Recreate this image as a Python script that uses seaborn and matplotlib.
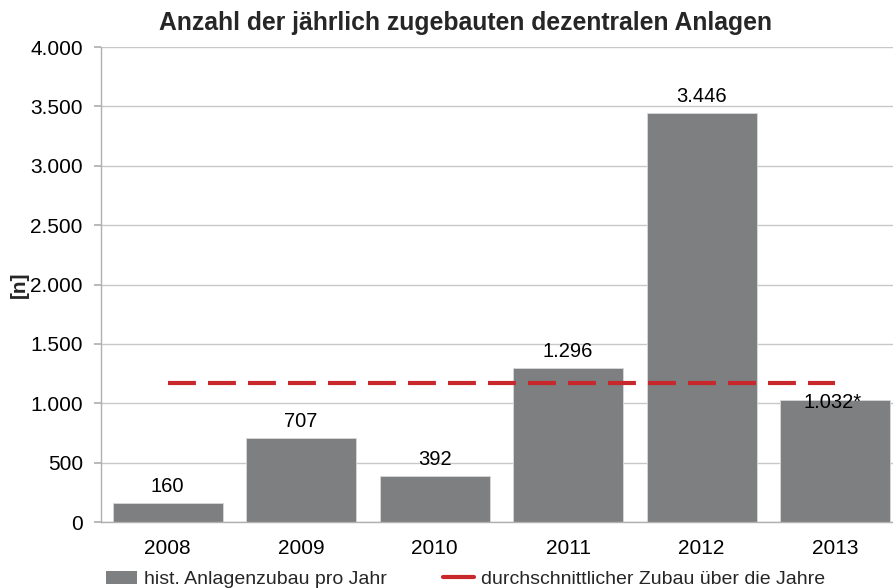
import numpy as np
import pandas as pd
import matplotlib
matplotlib.use('Agg')
import matplotlib.pyplot as plt
import matplotlib.ticker as mticker
from matplotlib.patches import Patch
from matplotlib.lines import Line2D
import seaborn as sns

years = ['2008', '2009', '2010', '2011', '2012', '2013']
zubau = [160, 707, 392, 1296, 3446, 1032]
labels = ['160', '707', '392', '1.296', '3.446', '1.032*']

df = pd.DataFrame({'Jahr': years, 'Anlagen': zubau})
avg = np.mean(zubau)

sns.set_theme(style='white')
plt.rcParams['font.family'] = ['Liberation Sans', 'DejaVu Sans']

bar_color = '#7e7f81'
red = '#c8282c'
grid_color = '#c8c8c8'

fig = plt.figure(figsize=(8.93, 5.88), dpi=100)
# right part of the plot area runs past the image edge, as in the original
ax = fig.add_axes([0.113, 0.112, 0.897, 0.808])

sns.barplot(data=df, x='Jahr', y='Anlagen', color=bar_color, width=0.825,
            saturation=1, edgecolor='#d9d9d9', linewidth=0.6, ax=ax, zorder=2)

ax.plot(range(len(years)), [avg] * len(years), color=red, lw=3.0,
        dashes=(6.7, 2.9), zorder=3)

for i, (v, t) in enumerate(zip(zubau, labels)):
    if i == len(years) - 1:
        ax.annotate(t, (i, v), xytext=(-2, -2), textcoords='offset points',
                    ha='center', va='center', fontsize=14.5, color='black', zorder=4)
    else:
        ax.annotate(t, (i, v), xytext=(0, 5), textcoords='offset points',
                    ha='center', va='bottom', fontsize=14.5, color='black')

ax.set_ylim(0, 4000)
ax.set_xlim(-0.5, 5.5)
ax.yaxis.set_major_locator(mticker.MultipleLocator(500))
ax.yaxis.set_major_formatter(mticker.FuncFormatter(lambda v, p: f'{v:,.0f}'.replace(',', '.')))
ax.grid(axis='y', color=grid_color, lw=1, zorder=0)
ax.set_axisbelow(True)

for s in ['top', 'right']:
    ax.spines[s].set_visible(False)
for s in ['left', 'bottom']:
    ax.spines[s].set_color('#b0b0b0')
    ax.spines[s].set_linewidth(1)

ax.set_xticks(np.arange(-0.5, 6, 1), minor=True)
ax.tick_params(axis='x', which='major', length=0, labelsize=15, pad=12, colors='black')
ax.tick_params(axis='x', which='minor', length=5, color='#b0b0b0', direction='out')
ax.tick_params(axis='y', length=5, color='#b0b0b0', labelsize=15, colors='black', left=True, pad=8)

ax.set_xlabel('')
ax.set_ylabel('[n]', fontsize=15, fontweight='bold', labelpad=1)
ax.set_title('Anzahl der jährlich zugebauten dezentralen Anlagen', fontsize=17.8,
             fontweight='bold', x=0.455, pad=12)

handles = [Patch(facecolor=bar_color, edgecolor='none'),
           Line2D([0], [0], color=red, lw=3.0)]
leg = fig.legend(handles, ['hist. Anlagenzubau pro Jahr', 'durchschnittlicher Zubau über die Jahre'],
                 loc='lower left', bbox_to_anchor=(0.099, -0.03), ncol=2, frameon=False,
                 fontsize=14, handlelength=1.6, handleheight=0.7, handletextpad=0.35,
                 columnspacing=2.9)

fig.savefig('out.png', dpi=100)
